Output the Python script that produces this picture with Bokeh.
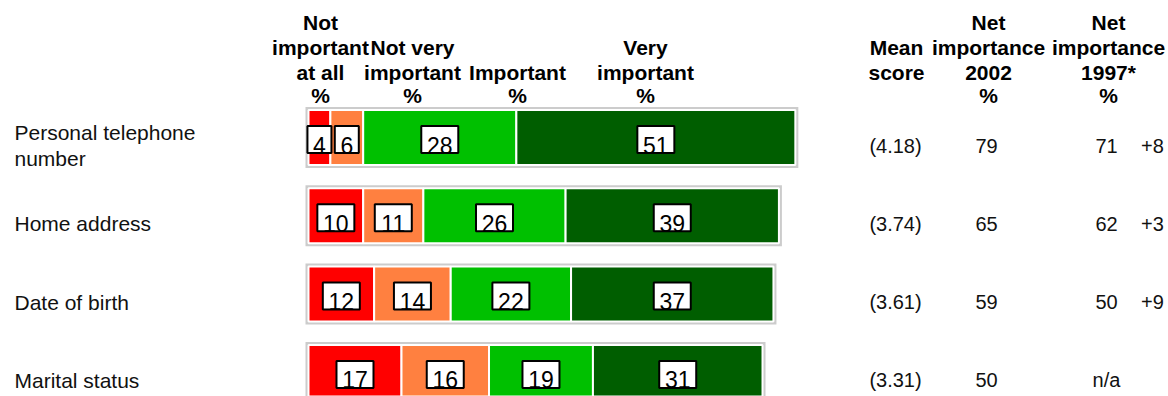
import numpy as np
from bokeh.plotting import figure
from bokeh.models import Range1d, ColumnDataSource
from bokeh.core.properties import value
from bokeh.embed import file_html
from bokeh.resources import INLINE

# ---------------- data ----------------
categories = ["Personal telephone\nnumber", "Home address", "Date of birth", "Marital status"]
not_at_all = [4, 10, 12, 17]
not_very = [6, 11, 14, 16]
important = [28, 26, 22, 19]
very_important = [51, 39, 37, 31]
mean_score = [4.18, 3.74, 3.61, 3.31]
net_2002 = [79, 65, 59, 50]
net_1997 = [71, 62, 50, None]
change = ["+8", "+3", "+9", ""]

series = [not_at_all, not_very, important, very_important]
colors = ["#FF0000", "#FF8040", "#00C000", "#005E00"]

header_cols = [
    ["Not", "important", "at all", "%"],
    ["", "Not very", "important", "%"],
    ["", "", "Important", "%"],
    ["", "Very", "important", "%"],
    ["", "Mean", "score", ""],
    ["Net", "importance", "2002", "%"],
    ["Net", "importance", "1997*", "%"],
]

# ---------------- layout (pixels) ----------------
W, H = 1168, 396
X0, SX = 308.0, 5.47          # pixel of 0 %, pixels per %
Y0, SY = 137.0, 78.3          # pixel of first row centre, pixels per row
FONT = value("Liberation Sans")


def px_x(px):
    return (px - X0) / SX


def px_y(py):
    return (py - Y0) / SY


p = figure(width=W, height=H, output_backend="svg", toolbar_location=None,
           x_range=Range1d(px_x(0), px_x(W)), y_range=Range1d(px_y(H), px_y(0)),
           x_axis_type=None, y_axis_type=None, min_border=0)
p.grid.visible = False
p.outline_line_color = None
p.background_fill_color = "white"
p.border_fill_color = "white"

rows = np.arange(len(categories), dtype=float)
data = np.array(series, dtype=float)           # shape (4 series, 4 rows)
cum = np.cumsum(data, axis=0)
lefts = cum - data
totals = cum[-1]

seg_h = 55 / SY
# grey outer frame
p.hbar(y=rows, left=-3 / SX, right=totals + 3 / SX, height=seg_h + 6 / SY,
       fill_color="#CCCCCC", line_color=None)

# segments
for k, col in enumerate(colors):
    p.hbar(y=rows, left=lefts[k], right=cum[k], height=seg_h,
           fill_color=col, line_color="white", line_width=2)

# value boxes
bx, by, bt, bw = [], [], [], []
for k in range(len(series)):
    for r in range(len(rows)):
        v = int(data[k, r])
        bx.append((lefts[k, r] + cum[k, r]) / 2)
        by.append(rows[r])
        bt.append(str(v))
        bw.append(11 + 13 * len(str(v)))
by = np.array(by)
src = ColumnDataSource(dict(x=bx, yb=by + 2 / SY, yt=by + 7.5 / SY, t=bt, w=bw))
p.rect(x="x", y="yb", width="w", height=27, width_units="screen",
       height_units="screen", source=src, fill_color="white", line_color="black",
       line_width=2)
p.text(x="x", y="yt", text="t", source=src, text_align="center",
       text_baseline="alphabetic", text_font=FONT, text_font_size=value("23px"),
       text_color="black")

# category labels
p.text(x=[px_x(14)] * len(rows), y=rows + 8 / SY, text=categories,
       text_align="left", text_baseline="middle", text_font=FONT,
       text_font_size=value("21px"), text_color="#111111", text_line_height=1.15)

# right-hand columns
def col_text(px, texts, align="center"):
    p.text(x=[px_x(px)] * len(texts), y=rows + 8 / SY, text=texts,
           text_align=align, text_baseline="middle", text_font=FONT,
           text_font_size=value("20px"), text_color="#111111")


col_text(895, ["(%.2f)" % m for m in mean_score])
col_text(986, [str(v) for v in net_2002])
col_text(1106, [str(v) if v is not None else "n/a" for v in net_1997])
col_text(1152, change)

# header
header_x = [320, 412, 517, 645, 896, 988, 1108]
baselines = [22, 47, 72, 95]
hx, hy, ht = [], [], []
for cx, lines in zip(header_x, header_cols):
    for b, t in zip(baselines, lines):
        if t:
            hx.append(px_x(cx))
            hy.append(px_y(b))
            ht.append(t)
p.text(x=hx, y=hy, text=ht, text_align="center", text_baseline="alphabetic",
       text_font=FONT, text_font_size=value("21px"), text_font_style="bold",
       text_color="black")

open("out.html", "w").write(file_html(p, INLINE))
